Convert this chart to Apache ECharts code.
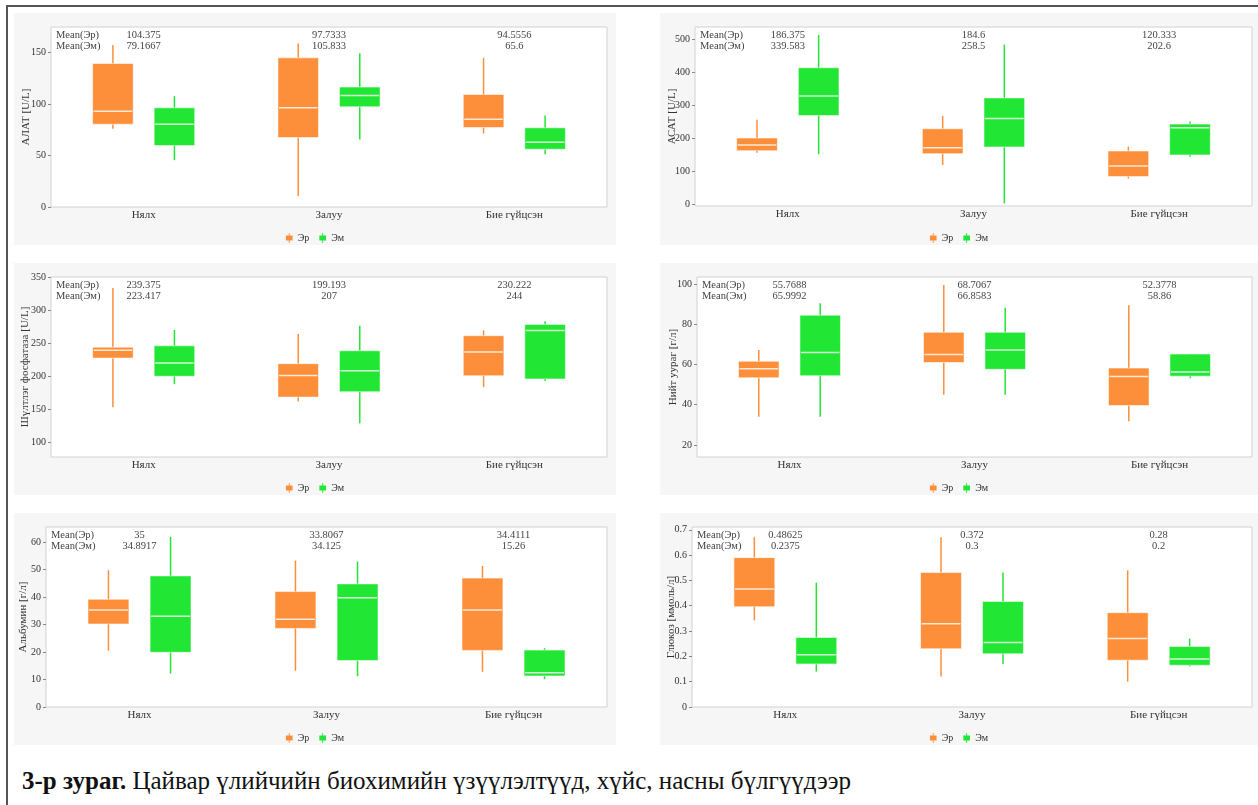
<!DOCTYPE html>
<html>
<head>
<meta charset="utf-8">
<script src="https://cdn.jsdelivr.net/npm/echarts@6/dist/echarts.min.js"></script>
<style>
  html, body { margin: 0; padding: 0; background: #ffffff; width: 1258px; height: 805px; overflow: hidden; }
  #frame { position: absolute; left: 6px; top: 5px; width: 1300px; height: 900px; border-left: 2px solid #555; border-top: 2px solid #555; }
  .panel { position: absolute; background: #f6f6f6; }
  #caption { position: absolute; left: 22px; top: 765px; font-family: "Liberation Serif", "DejaVu Serif", serif; font-size: 25px; line-height: 32px; color: #111; white-space: nowrap; }
</style>
</head>
<body>
<div id="frame"></div>
<div class="panel" id="p1" style="left:14px;top:13px;width:602px;height:232px;"></div>
<div class="panel" id="p2" style="left:660px;top:13px;width:598px;height:232px;"></div>
<div class="panel" id="p3" style="left:14px;top:263px;width:602px;height:232px;"></div>
<div class="panel" id="p4" style="left:660px;top:263px;width:598px;height:232px;"></div>
<div class="panel" id="p5" style="left:14px;top:513px;width:602px;height:232px;"></div>
<div class="panel" id="p6" style="left:660px;top:513px;width:598px;height:232px;"></div>
<div id="caption"><b>3-р зураг.</b> Цайвар үлийчийн биохимийн үзүүлэлтүүд, хүйс, насны бүлгүүдээр</div>
<script>
// ---------------- DATA ----------------
const categories = ['Нялх', 'Залуу', 'Бие гүйцсэн'];
const seriesNames = ['Эр', 'Эм'];

// each box: [min, Q1, median, Q3, max]
const alatMale   = [[76, 80.5, 93, 139.5, 157.5], [10.7, 67.5, 96.4, 145, 159], [71.4, 77.3, 85.4, 109.4, 145]];
const alatFemale = [[45.5, 59.7, 80.5, 96.4, 107.8], [65.6, 97.4, 108.4, 116.6, 149.4], [51.3, 56.2, 63, 77, 89]];
const alatMeanMale   = [104.375, 97.7333, 94.5556];
const alatMeanFemale = [79.1667, 105.833, 65.6];
const alatTicks = [0, 50, 100, 150];

const asatMale   = [[157, 163, 180, 201, 256], [120, 154, 172, 229, 268], [78.6, 84.7, 117, 162, 175]];
const asatFemale = [[152, 269, 328, 413, 512], [4, 174, 260, 322, 483], [144, 150, 232, 243, 251]];
const asatMeanMale   = [186.375, 184.6, 120.333];
const asatMeanFemale = [339.583, 258.5, 202.6];
const asatTicks = [0, 100, 200, 300, 400, 500];

const alpMale   = [[153, 227.5, 239.5, 244, 333.5], [162, 168.5, 201.3, 219, 264], [183.7, 200.8, 236.6, 261.3, 269.4]];
const alpFemale = [[188, 200, 220, 246, 270], [129, 176.6, 208.4, 238.6, 276.4], [193, 196, 269, 278.4, 283]];
const alpMeanMale   = [239.375, 199.193, 230.222];
const alpMeanFemale = [223.417, 207, 244];
const alpTicks = [100, 150, 200, 250, 300, 350];

const proteinMale   = [[34, 53.4, 57.9, 61.6, 67.2], [45, 61, 65, 76, 99.5], [31.8, 39.6, 54, 58.2, 89.5]];
const proteinFemale = [[34, 54.4, 66, 84.5, 90.5], [45, 57.6, 67.2, 76, 88.2], [53.2, 54.2, 56.3, 65.2, 65.4]];
const proteinMeanMale   = [55.7688, 68.7067, 52.3778];
const proteinMeanFemale = [65.9992, 66.8583, 58.86];
const proteinTicks = [20, 40, 60, 80, 100];

const albuminMale   = [[20.5, 30.2, 35.3, 39.2, 49.8], [13.2, 28.6, 31.9, 42, 53.3], [12.8, 20.6, 35.3, 46.9, 51.3]];
const albuminFemale = [[12.2, 19.9, 33, 47.7, 61.9], [11.2, 16.9, 39.8, 44.8, 52.9], [10.1, 11.3, 12.5, 20.7, 21.4]];
const albuminMeanMale   = [35, 33.8067, 34.4111];
const albuminMeanFemale = [34.8917, 34.125, 15.26];
const albuminTicks = [0, 10, 20, 30, 40, 50, 60];

const glucoseMale   = [[0.342, 0.396, 0.466, 0.59, 0.671], [0.12, 0.23, 0.329, 0.531, 0.671], [0.10, 0.185, 0.271, 0.3725, 0.54]];
const glucoseFemale = [[0.14, 0.17, 0.206, 0.275, 0.491], [0.17, 0.21, 0.255, 0.417, 0.531], [0.16, 0.165, 0.19, 0.239, 0.27]];
const glucoseMeanMale   = [0.48625, 0.372, 0.28];
const glucoseMeanFemale = [0.2375, 0.3, 0.2];
const glucoseTicks = [0, 0.1, 0.2, 0.3, 0.4, 0.5, 0.6, 0.7];

// ---------------- STYLE / LAYOUT ----------------
const ORANGE = '#fd8f3a';
const GREEN = '#22e634';
const FONT = '"Liberation Serif", "DejaVu Serif", serif';

const panels = [
  { id: 'p1', name: 'АЛАТ [U/L]', male: alatMale, female: alatFemale, mm: alatMeanMale, mf: alatMeanFemale, ticks: alatTicks, min: 0, max: 175, grid: { left: 37, right: 9, top: 14, bottom: 38 }, nameGap: 19 },
  { id: 'p2', name: 'АСАТ [U/L]', male: asatMale, female: asatFemale, mm: asatMeanMale, mf: asatMeanFemale, ticks: asatTicks, min: -4, max: 536, grid: { left: 35, right: 6, top: 14, bottom: 39 }, nameGap: 17 },
  { id: 'p3', name: 'Шүлтлэг фосфатаза [U/L]', male: alpMale, female: alpFemale, mm: alpMeanMale, mf: alpMeanFemale, ticks: alpTicks, min: 78, max: 350, grid: { left: 37, right: 9, top: 14, bottom: 38 }, nameGap: 20 },
  { id: 'p4', name: 'Нийт уураг [г/л]', male: proteinMale, female: proteinFemale, mm: proteinMeanMale, mf: proteinMeanFemale, ticks: proteinTicks, min: 14, max: 103.5, grid: { left: 37, right: 6, top: 14, bottom: 38 }, nameGap: 18 },
  { id: 'p5', name: 'Альбумин [г/л]', male: albuminMale, female: albuminFemale, mm: albuminMeanMale, mf: albuminMeanFemale, ticks: albuminTicks, min: 0, max: 65.5, grid: { left: 32, right: 9, top: 14, bottom: 38 }, nameGap: 17 },
  { id: 'p6', name: 'Глюкоз [ммоль/л]', male: glucoseMale, female: glucoseFemale, mm: glucoseMeanMale, mf: glucoseMeanFemale, ticks: glucoseTicks, min: 0, max: 0.711, grid: { left: 32, right: 6, top: 14, bottom: 38 }, nameGap: 15 }
];

const BOX_OFFSET = 0.166;  // fraction of band width
const BOX_WIDTH = 0.219;   // fraction of band width

function boxRenderer(offsetFrac, color) {
  return function (params, api) {
    const idx = api.value(0);
    const band = api.size([1, 0])[0];
    const cx = api.coord([idx, api.value(3)])[0] + offsetFrac * band;
    const w = band * BOX_WIDTH;
    const yMin = api.coord([idx, api.value(1)])[1];
    const yQ1 = api.coord([idx, api.value(2)])[1];
    const yMed = api.coord([idx, api.value(3)])[1];
    const yQ3 = api.coord([idx, api.value(4)])[1];
    const yMax = api.coord([idx, api.value(5)])[1];
    return {
      type: 'group',
      children: [
        { type: 'line', shape: { x1: cx, y1: yMax, x2: cx, y2: yMin }, style: { stroke: color, lineWidth: 1.5 } },
        { type: 'rect', shape: { x: cx - w / 2, y: yQ3, width: w, height: yQ1 - yQ3 }, style: { fill: color, stroke: 'rgba(255,255,255,0.55)', lineWidth: 1 } },
        { type: 'line', shape: { x1: cx - w / 2 + 1, y1: yMed, x2: cx + w / 2 - 1, y2: yMed }, style: { stroke: 'rgba(255,255,255,0.8)', lineWidth: 1.5 } }
      ]
    };
  };
}

function meanRenderer(params, api) {
  const idx = api.value(0);
  const cs = params.coordSys;
  const cx = api.coord([idx, api.value(1)])[0];
  const top = cs.y;
  const txtStyle = (t, x, y, align) => ({ type: 'text', x: x, y: y, style: { text: t, fill: '#444', font: '10.5px ' + FONT, align: align, verticalAlign: 'middle' } });
  const children = [
    txtStyle(String(api.value(1)), cx, top + 8, 'center'),
    txtStyle(String(api.value(2)), cx, top + 19, 'center')
  ];
  if (params.dataIndex === 0) {
    children.push(txtStyle('Mean(' + seriesNames[0] + ')', cs.x + 5, top + 8, 'left'));
    children.push(txtStyle('Mean(' + seriesNames[1] + ')', cs.x + 5, top + 19, 'left'));
  }
  return { type: 'group', children: children };
}

const legendIcon = 'path://M3.5,0h1v3h-1zM0,3h8v6h-8zM3.5,9h1v3h-1z';

panels.forEach(function (p) {
  const chart = echarts.init(document.getElementById(p.id), null, { renderer: 'canvas' });
  const maleData = p.male.map((b, i) => [i].concat(b));
  const femaleData = p.female.map((b, i) => [i].concat(b));
  const meanData = categories.map((c, i) => [i, p.mm[i], p.mf[i]]);
  chart.setOption({
    backgroundColor: '#f6f6f6',
    animation: false,
    textStyle: { fontFamily: FONT },
    grid: Object.assign({ show: true, backgroundColor: '#ffffff', borderColor: '#d2d2d2', borderWidth: 1, containLabel: false, outerBoundsMode: 'none' }, p.grid),
    legend: {
      data: seriesNames,
      top: 220,
      left: 'center',
      padding: 0,
      icon: legendIcon,
      itemWidth: 7,
      itemHeight: 10,
      itemGap: 10,
      textStyle: { fontFamily: FONT, fontSize: 10, color: '#333' }
    },
    xAxis: {
      type: 'category',
      data: categories,
      axisLine: { show: false },
      axisTick: { show: false },
      axisLabel: { fontFamily: FONT, fontSize: 11, color: '#333', margin: 3 },
      splitLine: { show: false }
    },
    yAxis: {
      type: 'value',
      min: p.min,
      max: p.max,
      name: p.name,
      nameLocation: 'middle',
      nameRotate: 90,
      nameGap: p.nameGap,
      nameMoveOverlap: false,
      nameTextStyle: { fontFamily: FONT, fontSize: 11, color: '#333' },
      axisLine: { show: false },
      axisTick: { show: true, length: 3, lineStyle: { color: '#888' }, customValues: p.ticks },
      axisLabel: { fontFamily: FONT, fontSize: 10, color: '#333', margin: 5, customValues: p.ticks },
      splitLine: { show: false }
    },
    series: [
      { name: seriesNames[0], type: 'custom', renderItem: boxRenderer(-BOX_OFFSET, ORANGE), itemStyle: { color: ORANGE }, encode: { x: 0, y: [1, 2, 3, 4, 5] }, data: maleData },
      { name: seriesNames[1], type: 'custom', renderItem: boxRenderer(BOX_OFFSET, GREEN), itemStyle: { color: GREEN }, encode: { x: 0, y: [1, 2, 3, 4, 5] }, data: femaleData },
      { name: 'Mean', type: 'custom', renderItem: meanRenderer, encode: { x: 0, y: [1, 2] }, data: meanData, silent: true }
    ]
  });
});
</script>
</body>
</html>
